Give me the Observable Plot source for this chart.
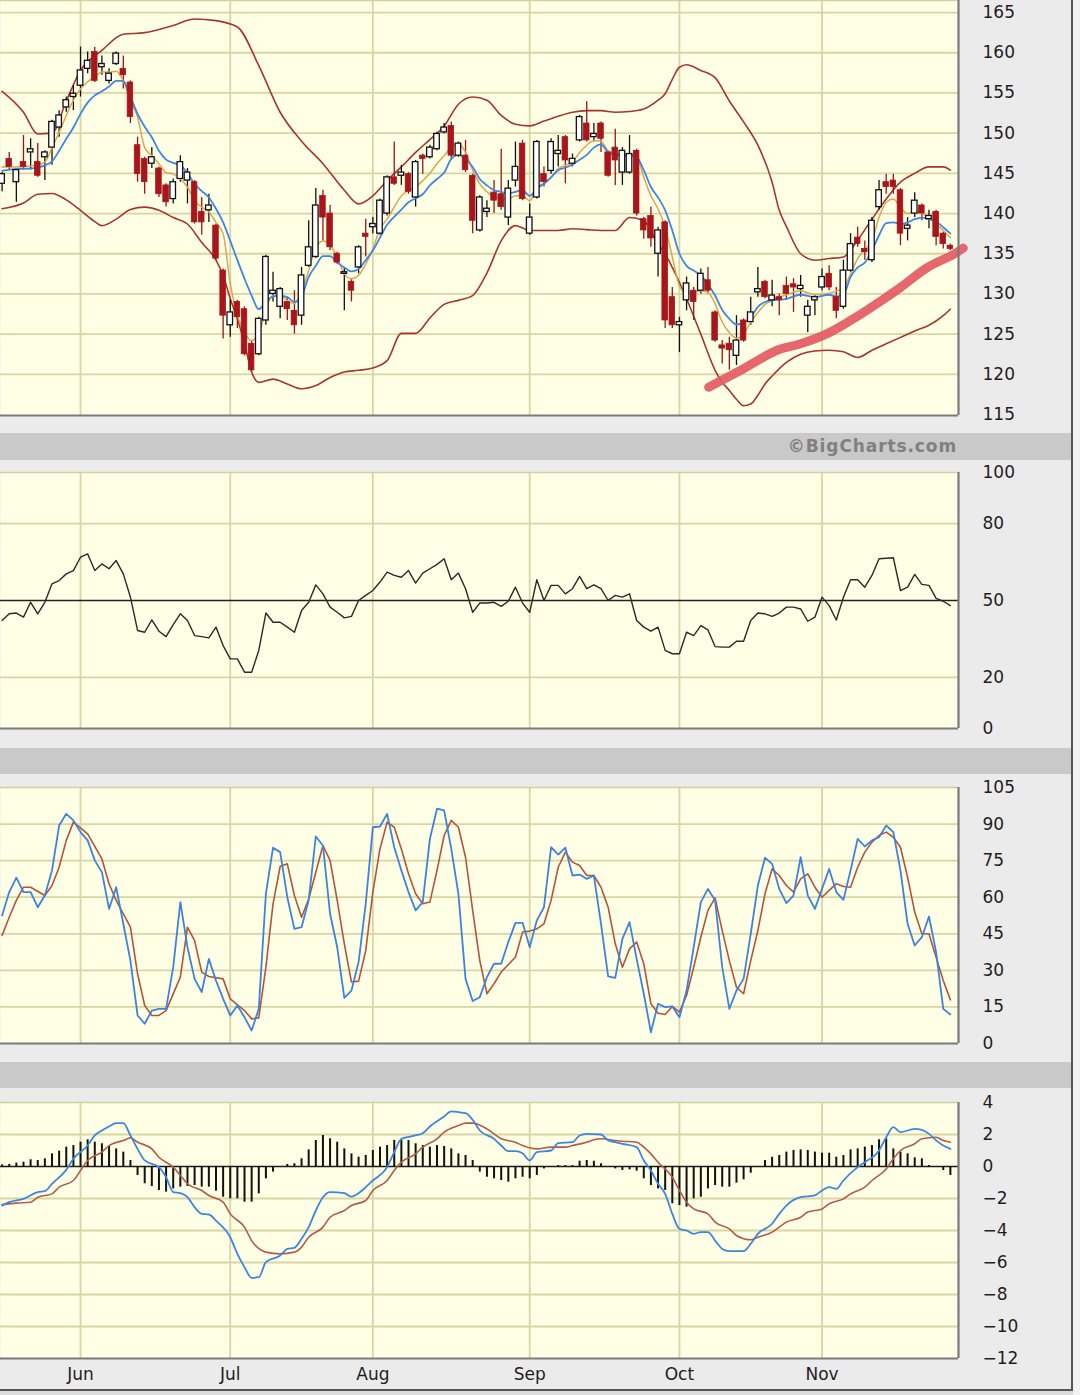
<!DOCTYPE html>
<html>
<head>
<meta charset="utf-8">
<script src="https://cdn.jsdelivr.net/npm/d3@7"></script>
<script src="https://cdn.jsdelivr.net/npm/@observablehq/plot@0.6"></script>
<style>
html,body{margin:0;padding:0;background:#ebebeb;}
#page{position:relative;width:1080px;height:1395px;overflow:hidden;background:#ebebeb;font-family:"DejaVu Sans",Verdana,sans-serif;}
.bar{position:absolute;left:0;width:1072px;background:#c9c9c9;}
.panel{position:absolute;left:0;}
#credit{position:absolute;top:435px;right:123px;height:22px;line-height:22px;font-weight:bold;font-size:17px;color:#808080;letter-spacing:0.9px;}
#rborder{position:absolute;left:1071px;top:0;width:2px;height:1391px;background:#555;}
#bborder{position:absolute;left:0;top:1389px;width:1073px;height:2px;background:#555;}
#rside{position:absolute;left:1073px;top:0;width:7px;height:1395px;background:#f2f2f2;}
#bside{position:absolute;left:0;top:1391px;width:1073px;height:4px;background:#dcdcdc;}
</style>
</head>
<body>
<div id="page">
  <div id="rside"></div><div id="bside"></div>
  <div class="bar" style="top:433px;height:27px"></div>
  <div class="bar" style="top:748px;height:26px"></div>
  <div class="bar" style="top:1062px;height:26px"></div>
  <div id="credit">©BigCharts.com</div>
  <div id="rborder"></div><div id="bborder"></div>
</div>
<script>
// ---------- axis / tick data ----------
const monthTicks = [11, 32, 52, 74, 95, 115];
const monthLabels = ["Jun", "Jul", "Aug", "Sep", "Oct", "Nov"];
const priceTicks = [115, 120, 125, 130, 135, 140, 145, 150, 155, 160, 165];
const rsiTicks = [0, 20, 50, 80, 100];
const stochTicks = [0, 15, 30, 45, 60, 75, 90, 105];
const macdTicks = [4, 2, 0, -2, -4, -6, -8, -10, -12];

// ---------- daily candles (trading-day index 0..133) ----------
const open = [143.7,146.8,143.9,146.4,147.6,146.4,147.0,148.2,150.7,153.2,
154.5,155.9,158.0,160.1,158.2,156.5,158.6,158.0,156.3,148.5,
146.8,146.2,145.6,143.5,141.8,144.3,144.1,143.9,140.2,140.4,
138.5,132.9,126.1,129.0,128.1,123.8,122.5,126.7,130.0,128.4,
129.0,127.9,127.3,133.5,134.6,142.2,140.0,135.0,132.5,131.5,
133.3,137.5,138.3,137.5,140.0,144.5,144.7,144.9,142.0,147.2,
147.0,148.0,150.1,150.9,147.2,147.2,144.7,137.9,140.2,142.6,
142.4,139.5,144.1,148.7,137.5,142.0,144.9,145.3,147.4,149.5,
146.2,149.1,151.2,149.5,151.2,147.6,148.2,145.1,145.1,147.8,
139.3,139.7,135.0,138.9,129.6,126.1,129.2,130.4,130.4,131.7,
127.7,123.6,123.8,122.3,126.7,126.5,130.2,131.5,129.2,129.6,
131.0,131.2,130.6,127.3,129.2,130.8,132.5,129.6,128.4,132.9,
137.0,135.6,134.2,140.8,143.9,144.1,142.9,138.1,140.0,141.0,
139.3,140.2,137.5,136.0];
const high = [145.1,147.6,145.6,149.7,149.3,148.7,147.8,151.6,152.8,154.5,
155.9,160.7,160.1,160.7,159.6,158.0,160.1,159.6,156.5,149.5,
147.0,148.2,145.8,143.7,144.3,147.2,145.6,144.1,142.0,142.4,
138.7,133.1,129.2,129.2,128.4,124.2,127.1,134.8,132.7,130.8,
129.6,130.4,133.3,139.1,143.1,142.9,141.0,135.2,133.3,131.9,
136.0,139.3,139.5,141.8,144.7,148.9,146.0,145.1,146.6,147.4,
148.5,150.1,151.2,151.4,148.9,149.1,144.9,142.2,141.6,144.1,
148.0,144.1,148.9,149.1,141.2,149.1,145.8,149.3,149.7,149.7,
147.4,152.2,153.9,151.2,151.4,147.8,150.5,148.2,149.7,148.0,
139.5,140.8,138.3,139.1,130.8,127.1,132.1,130.8,133.1,133.3,
127.9,124.2,124.6,127.3,126.9,129.6,133.3,131.7,131.7,130.0,
132.1,131.9,132.3,129.2,129.9,133.1,133.5,130.8,134.2,137.5,
138.3,136.6,139.5,144.1,144.9,144.9,143.1,139.5,142.6,141.2,
140.4,140.4,137.7,136.2];
const low = [142.7,145.4,141.4,145.4,145.4,144.5,144.1,146.0,149.5,152.6,
152.8,154.5,157.4,156.3,157.2,156.1,158.4,155.5,151.2,143.9,
142.4,145.6,142.0,140.8,141.2,143.9,141.2,138.7,137.3,138.9,
134.2,124.4,124.6,125.7,122.3,120.3,122.3,126.1,129.0,126.9,
126.7,125.0,126.1,133.3,134.4,136.6,135.4,133.7,127.9,129.0,
132.5,134.6,137.5,137.3,139.7,143.5,143.5,142.4,140.8,144.9,
146.8,147.8,149.9,146.6,147.0,145.1,137.5,137.7,139.5,140.0,
140.4,138.5,143.3,141.6,137.3,141.8,143.3,144.9,145.8,143.7,
145.8,148.9,148.9,148.9,147.6,144.5,143.5,143.5,144.9,139.7,
136.8,135.8,132.1,125.7,125.7,122.7,127.9,126.7,130.0,130.0,
124.0,121.3,120.5,121.1,124.0,126.1,129.6,129.4,128.4,127.3,
129.2,127.7,129.6,125.2,127.3,130.4,130.4,126.9,128.1,132.7,
135.8,134.2,133.9,140.4,142.4,142.4,136.0,136.6,139.5,139.1,
138.1,136.0,135.6,135.4];
const close = [144.9,145.8,145.4,145.8,148.0,144.7,147.6,151.4,152.2,154.1,
154.9,157.8,159.0,156.5,158.6,157.4,159.9,157.2,152.0,144.9,
143.9,147.0,142.4,141.4,143.9,146.4,145.1,138.9,138.9,141.0,
134.4,127.3,127.7,127.1,122.5,120.5,126.9,134.6,130.4,130.6,
128.1,126.1,132.3,135.8,141.0,139.5,135.8,133.9,132.7,130.4,
135.8,137.1,138.7,141.6,144.5,143.7,145.1,142.7,146.4,146.8,
148.2,149.9,150.7,147.2,148.7,145.4,139.1,142.0,140.6,141.6,
140.8,143.1,145.8,141.8,139.5,148.9,143.9,148.9,147.8,146.6,
146.8,152.0,149.1,149.9,149.3,144.7,146.6,147.8,147.4,140.0,
137.9,136.9,137.9,126.7,126.1,126.5,131.3,129.0,132.5,130.4,
124.2,123.2,123.0,124.2,124.2,127.7,130.6,129.6,129.8,129.2,
130.0,130.8,131.0,128.4,129.6,132.1,130.8,127.9,132.9,136.2,
136.2,135.2,139.1,142.9,143.3,143.3,137.5,138.5,141.6,140.0,
139.7,137.1,136.2,135.6];

// ---------- Bollinger bands [day, value] ----------
const upperBand = [[0,155.2],[3,152.6],[5,149.9],[7,150.0],[9,154.0],[11,157.8],[14,160.3],[17,162.3],[20,162.5],[24,163.4],[27,164.2],[30,164.0],[33,163.2],[36,158.4],[39,152.6],[42,149.0],[45,146.2],[48,142.9],[50,141.2],[52,142.2],[54,144.1],[56,145.8],[58,147.6],[60,149.2],[62,150.9],[64,153.6],[66,154.5],[68,154.1],[70,152.2],[72,151.1],[74,150.9],[76,151.5],[78,152.1],[80,152.6],[82,152.8],[84,152.8],[86,152.6],[88,152.7],[90,153.0],[92,154.1],[93,154.9],[94,156.7],[95,158.2],[96,158.5],[98,157.8],[100,156.9],[102,154.0],[104,151.4],[106,148.5],[108,143.9],[109,140.4],[110,138.4],[112,135.0],[114,134.2],[116,134.4],[118,134.6],[120,136.7],[122,139.3],[124,141.8],[126,143.9],[128,145.0],[130,145.8],[132,145.8],[133,145.4]];
const lowerBand = [[0,140.6],[3,141.3],[5,142.4],[7,142.5],[9,141.7],[11,140.4],[13,139.0],[14,138.5],[16,139.3],[18,140.5],[20,140.8],[22,140.4],[24,139.5],[26,138.7],[28,136.4],[30,134.2],[31,132.3],[32,129.4],[33,126.9],[34,123.8],[35,120.3],[36,119.0],[38,119.4],[40,118.8],[42,118.2],[44,118.6],[46,119.6],[48,120.3],[50,120.5],[52,120.8],[54,121.7],[56,125.1],[58,125.1],[60,127.0],[62,128.7],[64,129.2],[66,129.8],[68,132.6],[70,136.6],[72,138.5],[74,137.9],[76,137.9],[78,137.9],[80,138.1],[82,138.0],[84,137.9],[86,137.9],[88,139.5],[90,139.1],[92,136.2],[93,135.0],[94,133.3],[96,129.4],[98,125.0],[100,120.5],[101,119.0],[102,118.0],[103,116.9],[104,116.1],[105,116.3],[106,117.4],[107,118.8],[108,119.8],[110,121.5],[112,122.5],[114,122.9],[116,123.0],[118,122.8],[120,122.1],[122,123.0],[124,123.8],[126,124.6],[128,125.4],[130,126.1],[132,127.3],[133,128.1]];

// ---------- moving averages [day, value] ----------
const maSlow = [[0,145.3],[2,145.55],[4,145.6],[6,146.0],[7,146.5],[8,147.8],[9,149.3],[10,150.7],[11,152.4],[12,153.8],[13,154.7],[14,155.2],[15,155.8],[16,156.5],[17,156.5],[18,154.5],[19,152.4],[20,150.8],[21,149.5],[22,147.8],[23,146.7],[24,146.3],[25,146.0],[26,145.0],[27,143.7],[28,142.8],[29,142.0],[30,140.6],[31,138.9],[32,136.6],[33,134.2],[34,131.9],[35,129.8],[36,128.1],[37,129.0],[38,129.7],[39,129.8],[40,129.6],[41,129.0],[42,129.7],[43,132.1],[44,133.5],[45,134.7],[46,134.7],[47,133.9],[48,133.3],[49,132.8],[50,133.1],[51,134.2],[52,135.4],[53,137.0],[54,138.6],[55,139.6],[56,140.5],[57,141.4],[58,141.9],[59,142.4],[60,143.5],[61,144.3],[62,145.1],[63,146.8],[64,147.3],[65,146.8],[66,145.8],[67,144.3],[68,143.5],[69,142.9],[70,142.7],[71,142.5],[72,142.7],[73,142.9],[74,142.2],[75,143.1],[76,143.7],[77,144.5],[78,145.4],[79,145.7],[80,146.1],[81,146.7],[82,147.3],[83,148.2],[84,148.6],[85,147.6],[86,147.3],[87,147.2],[88,147.2],[89,147.0],[90,145.4],[91,143.3],[92,142.0],[93,140.4],[94,137.9],[95,135.0],[96,133.5],[97,132.9],[98,132.3],[99,131.2],[100,129.8],[101,128.0],[102,126.9],[103,126.2],[104,126.4],[105,127.1],[106,128.4],[107,129.0],[108,129.2],[110,129.4],[112,129.9],[114,129.6],[116,129.9],[117,129.7],[118,129.9],[119,132.1],[120,133.3],[121,133.9],[122,135.4],[123,137.3],[124,138.8],[125,138.9],[126,138.7],[127,138.9],[128,139.3],[129,139.5],[130,139.3],[131,139.0],[132,138.3],[133,137.5]];
const maFast = [[0,145.8],[2,145.8],[4,145.9],[6,146.4],[7,148.2],[8,150.1],[9,152.2],[10,154.1],[11,155.5],[12,156.4],[13,157.0],[14,157.6],[15,157.6],[16,157.7],[17,156.5],[18,154.1],[19,152.0],[20,148.2],[21,147.2],[22,146.2],[23,145.1],[24,144.9],[25,144.3],[26,143.3],[27,141.6],[28,140.8],[29,140.2],[30,138.9],[31,137.5],[32,131.3],[33,127.3],[34,125.2],[35,124.2],[36,125.0],[37,128.1],[38,129.8],[39,129.8],[40,129.2],[41,128.8],[42,130.4],[43,132.9],[44,135.8],[45,136.6],[46,136.1],[47,134.6],[48,132.5],[49,131.9],[50,132.3],[51,133.7],[52,135.6],[53,138.1],[54,139.3],[55,140.8],[56,142.2],[57,142.9],[58,143.3],[59,144.1],[60,145.0],[61,146.2],[62,147.2],[63,148.2],[64,148.7],[65,147.6],[66,145.4],[67,143.7],[68,142.7],[69,142.1],[70,141.9],[71,141.8],[72,142.2],[73,142.2],[74,141.6],[75,143.2],[76,143.8],[77,144.5],[78,145.6],[79,146.0],[80,146.4],[81,147.6],[82,148.5],[83,149.1],[84,149.0],[85,147.8],[86,147.5],[87,147.4],[88,147.4],[89,147.2],[90,144.5],[91,142.2],[92,140.6],[93,138.3],[94,134.6],[95,131.0],[96,130.1],[97,130.2],[98,130.4],[99,130.2],[100,128.8],[101,126.5],[102,125.2],[103,124.5],[104,125.0],[105,126.5],[106,127.7],[107,128.7],[108,129.2],[110,129.9],[112,130.4],[114,129.9],[116,130.1],[118,130.8],[119,132.5],[120,134.4],[121,135.5],[122,136.6],[123,139.5],[124,141.4],[125,141.8],[126,140.8],[127,140.0],[128,140.3],[129,140.0],[130,139.5],[131,138.7],[132,137.9],[133,137.0]];

// hand-drawn trend line (annotation) [day, price]
const trendLine = [[99.1,118.4],[103.6,120.5],[108.7,123.0],[112,123.8],[115.8,125.1],[119,126.7],[122.2,128.5],[126,130.8],[129.8,133.3],[133.4,134.9],[134.8,135.7]];

// ---------- RSI (daily) ----------
const rsi = [42.2,44.8,45.1,43.5,49.3,44.8,49.3,56.5,57.8,60.4,
61.7,66.9,68.2,61.7,64.3,62.4,65.6,60.4,51.3,38.3,
37.6,42.4,38.0,35.9,40.6,44.8,42.2,36.3,35.9,35.4,
39.6,32.4,27.2,27.2,22.0,22.0,30.5,45.1,41.5,41.5,
39.6,37.6,46.1,49.3,56.1,52.6,47.4,45.4,43.2,43.8,
50.0,52.0,53.9,57.2,61.1,59.8,59.1,61.7,56.8,60.7,
62.4,64.1,66.3,58.1,60.7,54.6,45.4,49.0,49.0,49.3,
47.7,49.7,55.2,49.0,45.4,58.1,50.0,55.9,55.9,52.6,
54.6,59.4,54.6,56.1,54.6,50.0,52.0,51.3,52.6,42.2,
39.6,38.0,39.6,30.5,29.2,29.2,37.6,36.3,40.2,38.5,
32.0,31.8,31.8,34.1,34.1,42.2,45.1,44.8,43.8,45.1,
47.4,47.4,46.7,41.9,43.5,51.3,48.0,42.4,51.3,58.1,
58.1,55.2,59.8,66.3,66.5,66.7,53.9,55.2,60.2,56.3,
55.9,50.8,49.7,48.0];

// ---------- Stochastics ----------
const stochK = [52.5,62.1,68.0,62.1,62.1,55.9,60.7,71.0,89.4,94.2,
91.5,86.7,83.3,75.1,70.3,55.2,64.1,49.1,34.0,11.5,
8.1,13.5,14.2,14.2,31.3,58.0,39.5,26.5,21.1,34.7,
25.8,18.3,11.5,15.6,10.8,5.3,14.2,61.4,80.3,78.5,
60.0,47.0,47.7,58.7,84.9,81.2,53.2,39.5,18.7,21.7,
33.4,57.3,88.7,89.0,94.2,80.5,71.0,62.1,54.6,58.0,
83.9,96.3,95.6,79.8,61.4,26.5,17.4,19.0,27.2,32.7,
32.7,41.6,49.5,49.5,39.5,50.5,55.9,80.5,77.5,80.3,
68.9,69.3,67.5,68.9,49.1,27.5,26.9,42.9,49.8,34.7,
20.4,4.6,16.3,14.9,15.2,10.8,21.7,39.5,58.0,63.4,
58.7,31.3,14.2,21.7,26.5,45.0,64.8,76.2,73.7,63.4,
57.6,60.7,76.4,60.7,55.2,63.4,71.6,62.1,58.9,71.0,
83.9,80.8,83.3,84.6,89.4,86.7,71.0,49.1,40.2,43.6,
52.1,37.5,14.2,11.9];
const stochD = [[0,44.3],[1,51.8],[2,58.7],[3,64.1],[4,64.1],[6,60.7],[7,64.8],[8,72.3],[9,83.3],[10,90.8],[12,86.0],[14,75.7],[15,65.5],[16,58.7],[18,47.7],[19,28.6],[20,15.6],[21,11.5],[22,11.5],[23,13.5],[25,27.2],[26,47.7],[27,42.2],[28,29.3],[29,27.5],[31,26.5],[32,18.3],[34,13.5],[35,10.1],[36,10.5],[37,31.3],[38,57.3],[39,72.6],[40,73.7],[41,60.7],[42,51.8],[43,59.3],[45,81.2],[46,75.1],[47,58.7],[48,40.9],[49,25.2],[50,25.6],[51,38.1],[52,62.1],[53,79.8],[54,90.8],[55,88.7],[56,79.8],[57,69.6],[58,61.4],[59,57.3],[60,58.0],[61,71.0],[62,85.3],[63,91.5],[64,88.7],[65,76.4],[66,54.6],[67,34.0],[68,20.4],[69,24.5],[70,29.3],[72,35.4],[73,45.7],[74,46.1],[75,47.0],[76,49.1],[77,58.7],[78,72.3],[79,78.5],[80,74.4],[81,73.0],[82,68.9],[83,68.9],[84,64.1],[85,55.9],[86,40.9],[87,31.3],[88,38.8],[89,41.6],[90,32.7],[91,16.3],[92,12.4],[93,11.9],[94,15.2],[95,12.9],[96,19.7],[97,31.3],[98,43.6],[99,54.6],[100,59.7],[101,46.3],[102,34.0],[103,23.1],[104,20.4],[105,34.0],[106,46.3],[107,61.4],[108,71.6],[109,68.9],[110,64.8],[111,62.1],[112,67.5],[113,69.6],[114,64.1],[115,60.0],[116,62.8],[117,65.5],[118,64.4],[119,64.1],[120,72.3],[121,78.5],[122,82.6],[123,85.3],[124,86.7],[125,84.6],[126,80.5],[127,68.2],[128,53.9],[129,45.0],[130,45.0],[131,35.4],[132,25.8],[133,17.9]];

// ---------- MACD ----------
const macdLine = [[0,-2.44],[1,-2.23],[3,-2.02],[5,-1.60],[6,-1.54],[7,-1.08],[9,-0.21],[10,0.48],[12,1.31],[13,1.94],[14,2.25],[15,2.50],[16,2.71],[17,2.71],[18,1.94],[19,1.10],[20,0.38],[22,-0.04],[23,-0.67],[24,-1.60],[25,-1.67],[26,-1.92],[27,-2.54],[28,-2.96],[29,-3.0],[30,-3.38],[32,-4.42],[33,-5.46],[34,-6.29],[35,-6.96],[36,-6.92],[37,-5.98],[39,-5.56],[40,-5.15],[41,-5.08],[42,-4.52],[43,-3.79],[44,-2.75],[45,-1.92],[46,-1.60],[48,-1.67],[49,-1.88],[50,-1.67],[51,-1.29],[52,-0.875],[54,-0.04],[55,0.90],[56,1.73],[58,1.94],[59,2.08],[60,2.50],[62,3.13],[63,3.44],[64,3.40],[65,3.33],[66,2.92],[67,2.25],[69,1.73],[70,1.31],[71,0.96],[72,0.96],[73,0.83],[74,0.38],[75,0.90],[77,1.0],[78,1.46],[80,1.52],[81,1.94],[82,2.04],[84,2.0],[85,1.63],[86,1.52],[87,1.42],[89,1.21],[90,0.375],[91,-0.25],[92,-1.08],[93,-1.71],[94,-2.96],[95,-3.90],[96,-4.0],[97,-4.21],[98,-4.1],[99,-4.1],[100,-4.63],[101,-5.15],[102,-5.29],[104,-5.29],[105,-4.83],[106,-4.21],[108,-3.58],[109,-2.96],[110,-2.44],[112,-1.92],[114,-1.81],[115,-1.5],[116,-1.29],[117,-1.40],[118,-0.875],[120,-0.04],[121,0.27],[123,1.0],[124,1.83],[125,2.46],[126,2.15],[128,2.35],[129,2.29],[130,2.04],[131,1.63],[132,1.31],[133,1.10]];
const signalLine = [[0,-2.38],[2,-2.29],[4,-2.23],[5,-1.92],[7,-1.71],[8,-1.29],[10,-0.875],[11,-0.25],[12,0.375],[14,0.90],[15,1.31],[17,1.625],[18,1.79],[19,1.52],[21,1.10],[22,0.58],[24,-0.04],[25,-0.56],[26,-1.08],[28,-1.5],[29,-1.81],[31,-2.23],[32,-2.96],[34,-3.79],[35,-4.63],[37,-5.35],[39,-5.46],[41,-5.35],[42,-5.04],[43,-4.42],[45,-3.79],[46,-3.17],[48,-2.75],[49,-2.44],[51,-2.125],[52,-1.5],[54,-0.875],[55,-0.25],[56,0.27],[58,0.79],[59,1.21],[61,1.73],[62,2.15],[64,2.56],[65,2.71],[66,2.71],[68,2.35],[69,2.04],[70,1.73],[72,1.52],[73,1.31],[75,1.10],[77,1.21],[79,1.21],[80,1.31],[82,1.52],[83,1.67],[84,1.73],[86,1.625],[87,1.58],[89,1.52],[90,1.21],[91,0.79],[92,0.27],[94,-0.67],[95,-1.5],[96,-2.23],[97,-2.65],[99,-2.96],[100,-3.48],[102,-3.90],[103,-4.31],[105,-4.58],[106,-4.42],[108,-4.1],[109,-3.79],[110,-3.48],[112,-3.17],[113,-2.85],[115,-2.65],[116,-2.33],[118,-2.02],[119,-1.71],[121,-1.29],[122,-0.875],[124,-0.15],[125,0.48],[126,1.0],[128,1.42],[129,1.73],[131,1.83],[132,1.625],[133,1.52]];
const macdHist = [0.10,
0.125,0.21,0.27,0.42,0.375,0.48,0.79,0.96,1.21,1.31,
1.52,1.67,1.52,1.42,1.25,1.10,0.90,0.375,-0.56,-1.08,
-1.25,-1.5,-1.60,-1.40,-1.29,-1.25,-1.19,-1.29,-1.29,-1.54,
-1.92,-2.02,-2.02,-2.23,-2.23,-1.71,-0.77,-0.35,0,0.125,
0.17,0.48,1.04,1.625,1.94,1.73,1.52,1.10,0.79,0.58,
0.69,1.0,1.21,1.31,1.625,1.625,1.625,1.42,1.31,1.21,
1.31,1.25,1.10,0.79,0.69,0.375,-0.35,-0.67,-0.77,-0.875,
-0.98,-0.77,-0.67,-0.77,-0.56,
-0.15,0,0.06,0.06,0.06,0.33,0.375,0.33,0.17,0,
-0.15,-0.25,-0.21,-0.29,-0.77,-1.19,-1.40,-1.5,-2.33,-2.44,
-2.54,-2.02,-1.92,-1.40,-1.19,-1.29,-1.29,-1.04,-0.83,-0.42,
0,0.375,0.58,0.69,0.90,1.0,1.04,1.0,0.90,0.83,
0.83,0.58,0.69,1.04,1.10,1.21,1.31,1.67,1.73,1.10,
0.90,0.79,0.54,0.48,0.06,0,-0.25,-0.56];

// ---------- build ----------
const candles = open.map((o, i) => ({i, o, h: high[i], l: low[i], c: close[i]}));
const up = candles.filter(d => d.c >= d.o);
const down = candles.filter(d => d.c < d.o);
const xDomain = [-0.224, 134.14];
const gridColor = "#d8d5a2";
const bg = "#ffffe6";
const half = 0.39;
const X = d => d[0], Y = d => d[1];

function panel({top, height, mt, mb, yDomain, yTicks, yGrid, marks, xAxis = false}) {
  const chart = Plot.plot({
    width: 1080, height,
    marginLeft: 0, marginRight: 122, marginTop: mt, marginBottom: mb,
    x: xAxis
      ? {domain: xDomain, ticks: monthTicks, tickFormat: d => monthLabels[monthTicks.indexOf(d)], tickSize: 0, tickPadding: 9, label: null}
      : {domain: xDomain, axis: null},
    y: {domain: yDomain, axis: "right", ticks: yTicks, tickSize: 0, tickPadding: 24, label: null},
    style: {background: "transparent", fontFamily: "'DejaVu Sans', Verdana, sans-serif", fontSize: "17px", color: "#1e1e1e", overflow: "visible"},
    marks: [
      Plot.frame({fill: bg, stroke: null}),
      Plot.ruleY(yGrid, {stroke: gridColor, strokeWidth: 1.8}),
      Plot.ruleX(monthTicks, {stroke: gridColor, strokeWidth: 1.8}),
      Plot.ruleY([yDomain[1]], {stroke: "#d2d0a0", strokeWidth: 1.5}),
      ...marks,
      Plot.ruleY([yDomain[0]], {stroke: "#7a7a7a", strokeWidth: 2.2}),
      Plot.ruleX([xDomain[1]], {stroke: "#7a7a7a", strokeWidth: 2.2})
    ]
  });
  chart.classList.add("panel");
  chart.style.top = top + "px";
  document.getElementById("page").appendChild(chart);
}

// Price panel
panel({
  top: 0, height: 418, mt: 0, mb: 3,
  yDomain: [114.88, 166.5], yTicks: priceTicks, yGrid: priceTicks.slice(1),
  marks: [
    Plot.line(upperBand, {x: X, y: Y, stroke: "#a8352d", strokeWidth: 1.6, curve: "monotone-x"}),
    Plot.line(lowerBand, {x: X, y: Y, stroke: "#a8352d", strokeWidth: 1.6, curve: "monotone-x"}),
    Plot.ruleX(down, {x: "i", y1: "l", y2: "h", stroke: "#9e1216", strokeWidth: 1.3}),
    Plot.ruleX(up, {x: "i", y1: "l", y2: "h", stroke: "#111", strokeWidth: 1.3}),
    Plot.line(maFast, {x: X, y: Y, stroke: "#d9a656", strokeWidth: 1.5, curve: "monotone-x"}),
    Plot.line(maSlow, {x: X, y: Y, stroke: "#3d87e0", strokeWidth: 1.8, curve: "monotone-x"}),
    Plot.rect(down, {x1: d => d.i - half, x2: d => d.i + half, y1: "o", y2: "c", fill: "#a8161b", stroke: "#a8161b", strokeWidth: 0.8}),
    Plot.rect(up, {x1: d => d.i - half, x2: d => d.i + half, y1: "o", y2: "c", fill: "#ffffff", stroke: "#111", strokeWidth: 1.3}),
    Plot.line(trendLine, {x: X, y: Y, stroke: "#e45a63", strokeWidth: 9, strokeOpacity: 0.92, strokeLinecap: "round", curve: "catmull-rom"})
  ]
});

// RSI panel
panel({
  top: 460, height: 280, mt: 12, mb: 12,
  yDomain: [0, 100], yTicks: rsiTicks, yGrid: [20, 80],
  marks: [
    Plot.ruleY([50], {stroke: "#222", strokeWidth: 1.6}),
    Plot.line(rsi, {x: (d, i) => i, y: d => d, stroke: "#2a2a2a", strokeWidth: 1.4})
  ]
});

// Stochastics panel
panel({
  top: 775, height: 280, mt: 12, mb: 12,
  yDomain: [0, 105], yTicks: stochTicks, yGrid: [15, 30, 45, 60, 75, 90],
  marks: [
    Plot.line(stochD, {x: X, y: Y, stroke: "#b3543f", strokeWidth: 1.6}),
    Plot.line(stochK, {x: (d, i) => i, y: d => d, stroke: "#3d83dc", strokeWidth: 1.8})
  ]
});

// MACD panel
panel({
  top: 1090, height: 305, mt: 12, mb: 37,
  yDomain: [-12, 4], yTicks: macdTicks, yGrid: [2, -2, -4, -6, -8, -10],
  xAxis: true,
  marks: [
    Plot.ruleY([0], {stroke: "#1a1a1a", strokeWidth: 1.6}),
    Plot.ruleX(macdHist.map((v, i) => ({i, v})).filter(d => d.v !== 0), {x: "i", y1: 0, y2: "v", stroke: "#111", strokeWidth: 2}),
    Plot.line(signalLine, {x: X, y: Y, stroke: "#b45a48", strokeWidth: 1.6, curve: "monotone-x"}),
    Plot.line(macdLine, {x: X, y: Y, stroke: "#3d86e0", strokeWidth: 1.8, curve: "monotone-x"})
  ]
});

// keep borders on top
const page = document.getElementById("page");
page.appendChild(document.getElementById("rborder"));
page.appendChild(document.getElementById("bborder"));
</script>
</body>
</html>
